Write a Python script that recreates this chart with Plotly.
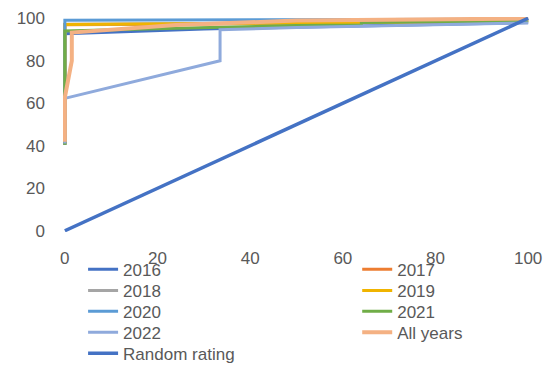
import plotly.graph_objects as go

# share of rated population (x) vs share of defaults captured (y)
x_2016 = [0, 0, 30, 100]
y_2016 = [40.5, 92.7, 95.0, 98.0]
x_2017 = [0, 0, 30, 100]
y_2017 = [40.5, 97.0, 97.3, 98.6]
x_2018 = [0, 0, 50, 100]
y_2018 = [40.5, 97.2, 97.8, 98.8]
x_2019 = [0, 0, 50, 100]
y_2019 = [40.5, 97.1, 97.8, 98.9]
x_2020 = [0, 0, 100]
y_2020 = [40.5, 99.1, 99.6]
x_2021 = [0, 0, 24, 50, 64, 64, 100]
y_2021 = [40.5, 94.0, 95.3, 96.6, 96.8, 98.0, 98.8]
x_2022 = [0, 0, 33.5, 33.5, 50, 100]
y_2022 = [41, 62.3, 80.0, 94.6, 95.6, 97.8]
x_all = [0, 0, 1.5, 1.5, 24, 50, 100]
y_all = [41.9, 62.8, 80.0, 93.3, 96.8, 98.9, 99.9]
x_random = [0, 100]
y_random = [0, 100]

serien = [
    ("2016", x_2016, y_2016, "#4472C4", 3),
    ("2017", x_2017, y_2017, "#ED7D31", 3),
    ("2018", x_2018, y_2018, "#A5A5A5", 3),
    ("2019", x_2019, y_2019, "#F0B400", 3),
    ("2020", x_2020, y_2020, "#5B9BD5", 3),
    ("2021", x_2021, y_2021, "#70AD47", 3),
    ("2022", x_2022, y_2022, "#8FAADC", 3),
    ("All years", x_all, y_all, "#F4B183", 4),
    ("Random rating", x_random, y_random, "#4472C4", 3.5),
]

# legend: two columns, five rows (one small legend per entry)
spalten_x = [0.043, 0.630]
zeilen_y = [-0.092, -0.190, -0.287, -0.385, -0.482]

fig = go.Figure()
legenden = {}
for i, (name, xs, ys, farbe, breite) in enumerate(serien):
    lname = "legend" if i == 0 else "legend%d" % (i + 1)
    fig.add_trace(go.Scatter(x=xs, y=ys, mode="lines", name=name,
                             line=dict(color=farbe, width=breite),
                             legend=lname))
    legenden[lname] = dict(x=spalten_x[i % 2], xanchor="left",
                           y=zeilen_y[i // 2], yanchor="top",
                           bgcolor="rgba(0,0,0,0)",
                           font=dict(size=17, color="#595959"))

# the page puts the figure 8px in from the top-left corner
fig.update_layout(
    width=545, height=359,
    margin=dict(l=55, r=23, t=9, b=135, autoexpand=False),
    plot_bgcolor="white", paper_bgcolor="white",
    font=dict(family="Liberation Sans, Arial", size=17, color="#595959"),
    showlegend=True,
    **legenden,
)
fig.update_xaxes(range=[-0.4, 100.4], tickvals=[0, 20, 40, 60, 80, 100],
                 showgrid=False, zeroline=False, showline=False, ticks="",
                 ticklabelstandoff=14)
fig.update_yaxes(range=[-0.6, 100.6], tickvals=[0, 20, 40, 60, 80, 100],
                 showgrid=False, zeroline=False, showline=False, ticks="",
                 ticklabelstandoff=17)

fig.write_html("out.html")
